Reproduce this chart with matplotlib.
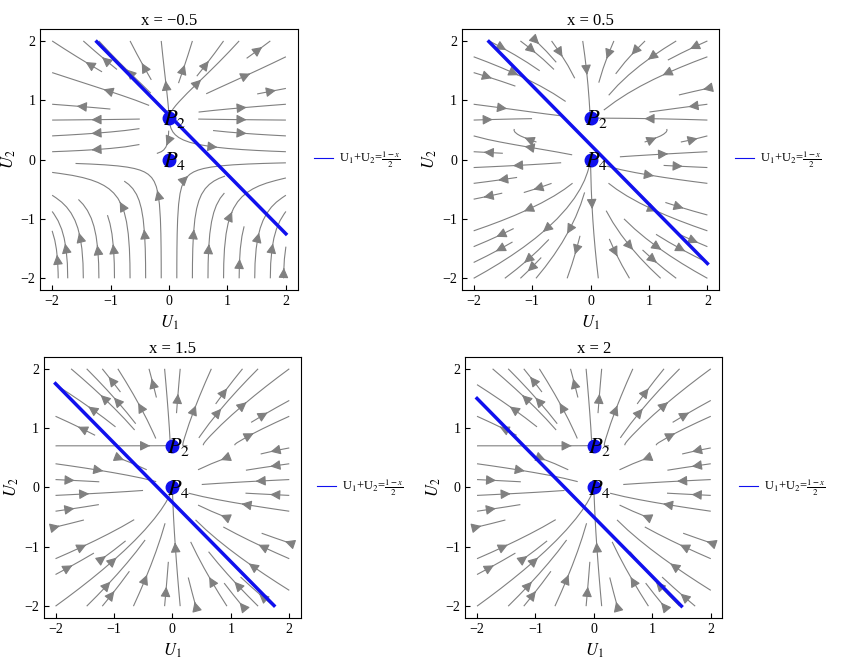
import numpy as np
import matplotlib
matplotlib.use("Agg")
import matplotlib.pyplot as plt
from matplotlib.lines import Line2D

plt.rcParams['font.family'] = ['Liberation Serif', 'DejaVu Serif']
plt.rcParams['mathtext.fontset'] = 'stix'

x_values = [-0.5, 0.5, 1.5, 2]
titles = ["x = \u22120.5", "x = 0.5", "x = 1.5", "x = 2"]
# model field parameters: U1' = U1*(a + b*U2), U2' = s*U2*(U2 - p2)
field_a = [1.0, 1.0, -1.0, -1.0]
field_b = [0.5, -2.0, 1.4, 1.4]
field_s = [1.0, -1.0, 1.0, 1.0]
p2_y = 0.7
points = [(0, 0.7, "P_2"), (0, 0.0, "P_4")]
ticks = [-2, -1, 0, 1, 2]

positions = [(0.048, 0.561), (0.548, 0.561), (0.052, 0.065), (0.552, 0.065)]

fig = plt.figure(figsize=(8.43, 6.61), dpi=100)
u = np.linspace(-2, 2, 200)
U, V = np.meshgrid(u, u)
for i, xv in enumerate(x_values):
    ax = fig.add_axes([positions[i][0], positions[i][1], 0.305, 0.395])
    du = U * (field_a[i] + field_b[i] * V)
    dv = field_s[i] * V * (V - p2_y)
    ax.streamplot(U, V, du, dv, color='gray', linewidth=0.8, density=0.55,
                  arrowsize=1.5, arrowstyle='-|>')
    c = (1 - xv) / 2
    lx = np.linspace(-2, 2, 200)
    ly = c - lx
    m = (ly >= -2) & (ly <= 2)
    ax.plot(lx[m], ly[m], color='#1010ee', lw=2.5)
    for px, py, name in points:
        ax.plot(px, py, 'o', color='#1010ee', ms=9, zorder=5)
        ax.text(px - 0.1, py - 0.12, r'$\boldsymbol{%s}$' % name, fontsize=16, zorder=6)
    ax.set_xlim(-2.2, 2.2)
    ax.set_ylim(-2.2, 2.2)
    ax.set_xticks(ticks)
    ax.set_yticks(ticks)
    ax.set_title(titles[i], fontsize=12, pad=2)
    ax.set_xlabel(r'$U_1$', fontsize=12)
    ax.set_ylabel(r'$U_2$', fontsize=12, labelpad=2)
    ax.tick_params(labelsize=10, direction='in')
    h = Line2D([], [], color='#1010ee', lw=0.8)
    ax.legend([h], [r'U$_1$+U$_2$=$\frac{1-x}{2}$'], loc='center left',
              bbox_to_anchor=(1.02, 0.5), frameon=False, fontsize=9,
              handlelength=1.5, handletextpad=0.5)

fig.savefig("out.png", dpi=100)
